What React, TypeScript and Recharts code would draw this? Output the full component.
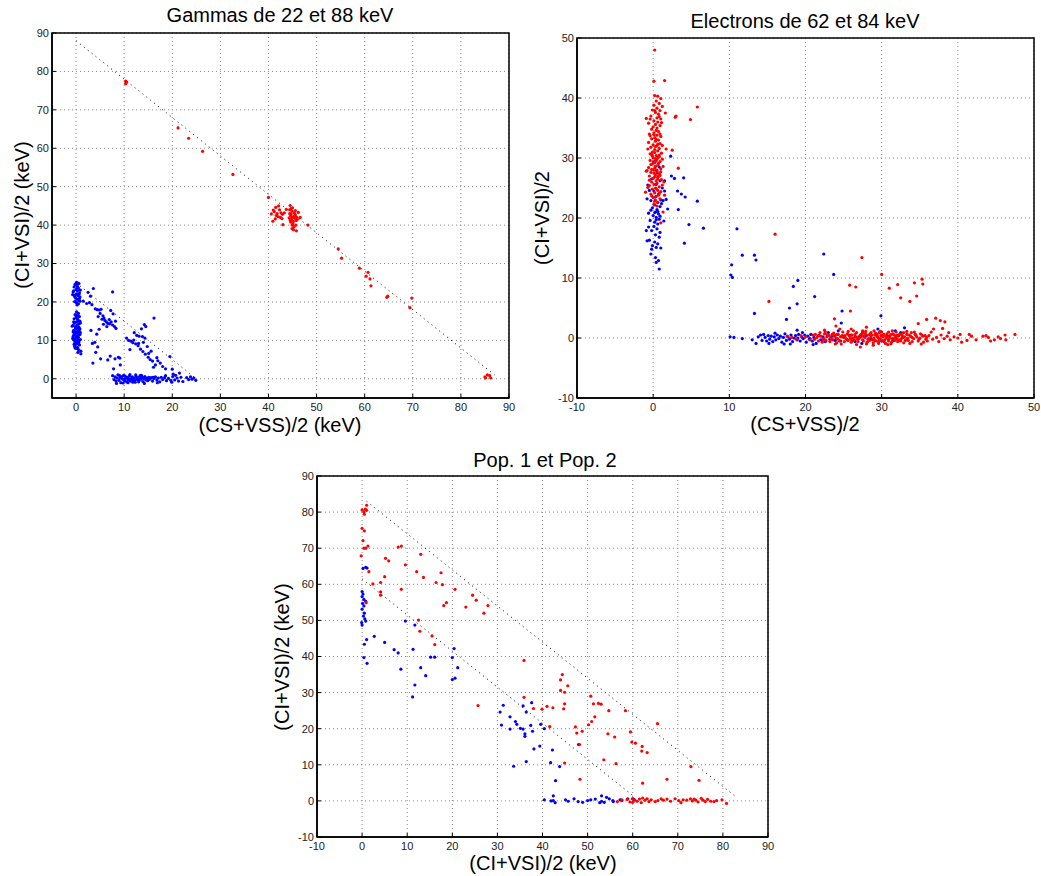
import { ScatterChart, Scatter, XAxis, YAxis, CartesianGrid, ReferenceLine, ReferenceArea } from "recharts";

type Pt = [number, number];

// ---- Gammas de 22 et 88 keV ----
const gammaTicks = [0, 10, 20, 30, 40, 50, 60, 70, 80, 90];
const gammaBlueColumn: Pt[] = [
  [0.1,25.1],[0.4,24.9],[-0.2,24.6],[0.6,24.8],[0.2,24.3],[-0.4,23.9],[0.5,23.6],[0.0,23.2],[0.3,22.9],[-0.6,22.6],
  [0.7,22.4],[0.1,22.1],[-0.2,21.8],[0.4,21.6],[0.8,21.3],[-0.1,21.0],[0.2,20.7],[0.6,20.4],[-0.3,20.1],[0.1,19.8],
  [0.5,19.5],[-0.5,22.9],[0.9,23.1],[0.3,24.0],[-0.1,24.5],[0.7,20.9],[0.0,20.0],[0.4,21.9],[-0.3,21.4],[0.6,22.0],
  [0.2,23.5],[-0.7,21.9],[0.8,20.2],[0.2,19.2],
  [0.1,17.4],[0.5,17.0],[-0.2,16.7],[0.3,16.4],[0.7,16.2],[0.0,15.9],[-0.4,15.6],[0.4,15.3],[0.8,15.0],[0.1,14.8],
  [-0.3,14.5],[0.5,14.2],[-0.6,13.9],[0.2,13.7],[0.6,13.4],[-0.1,13.1],[0.3,12.9],[-0.5,12.6],[0.7,12.4],[0.0,12.1],
  [0.4,11.9],[-0.3,11.7],[0.8,11.5],[0.1,11.2],[-0.6,11.0],[0.5,10.8],[-0.1,10.6],[0.3,10.4],[0.9,10.2],[-0.4,10.0],
  [0.2,9.8],[0.6,9.6],[-0.2,9.4],[0.4,9.2],[0.0,9.0],[0.7,8.8],[-0.3,8.5],[0.3,8.2],[0.1,7.9],[0.5,7.6],
  [-0.1,13.5],[0.9,12.0],[-0.7,10.5],[0.5,11.4],[-0.2,12.3],[0.2,14.0],[0.6,10.0],[-0.4,9.0],[0.8,13.0],[0.0,16.5],
  [0.3,15.6],[-0.5,14.8],[0.9,14.5],[0.1,10.9],[-0.3,10.2],[0.4,12.6],[0.6,8.9],[-0.1,11.8],[0.2,9.5],[0.7,14.9],
  [-0.5,11.3],[0.0,13.3],[1.0,6.5],[0.4,6.9],[-0.2,8.0],[-0.8,13.7],[-0.6,12.2],[1.0,7.2],
];
const gammaBlueBranches: Pt[] = [
  [1.5,20.2],[2.2,19.6],[2.8,19.8],[3.3,19.3],[3.0,21.5],[3.6,23.5],[2.5,22.5],[4.0,18.2],[4.4,18.0],[4.8,17.9],
  [5.2,18.1],[5.0,17.0],[5.6,16.4],[5.8,15.8],[6.0,15.2],[6.3,14.8],[6.6,14.4],[7.0,14.3],[7.3,14.8],[7.6,14.0],
  [8.0,13.6],[8.3,13.1],[7.2,17.8],[7.7,16.9],[8.2,15.0],[6.9,15.4],[5.4,15.5],[7.6,22.6],[3.1,12.6],[3.4,9.2],
  [3.9,9.5],[4.1,6.9],[3.5,4.1],[4.5,8.3],[4.8,12.9],[4.3,11.6],[5.1,5.2],[6.6,4.9],[7.1,5.9],[8.1,5.2],
  [8.8,5.6],[9.1,5.4],[7.8,2.6],[9.2,3.6],[5.7,14.2],[6.4,13.6],[4.6,16.2],
  [10.5,10.6],[10.9,10.0],[11.4,9.8],[12.0,10.1],[12.4,9.1],[12.9,8.6],[13.4,7.7],[13.9,7.1],[14.4,6.4],[15.0,5.6],
  [15.4,5.0],[15.9,4.6],[16.5,3.6],[17.0,4.7],[17.5,4.1],[18.0,3.2],[18.6,2.6],[13.1,11.1],[13.8,11.0],[14.3,10.6],
  [14.5,13.6],[14.2,14.1],[13.6,13.0],[12.1,12.0],[12.6,11.3],[16.2,15.8],[16.1,3.0],[15.1,6.6],[13.0,9.2],[11.2,7.6],
  [14.8,8.4],[15.6,7.2],[16.8,5.5],[19.5,5.8],[20.0,2.5],[20.2,1.2],[21.5,1.5],[11.8,9.4],[14.0,9.5],
];
const gammaBlueBand: Pt[] = [
  [7.6,0.8],[7.9,-0.2],[8.1,0.5],[8.3,-0.6],[8.5,0.2],[8.7,1.0],[8.9,-0.4],[9.1,0.3],[9.3,-1.0],[9.5,0.6],
  [9.7,-0.1],[9.9,0.9],[10.1,-0.5],[10.3,0.1],[10.5,-0.8],[10.7,0.4],[10.9,-0.3],[11.1,0.7],[11.3,-0.6],[11.5,0.0],
  [11.7,0.5],[11.9,-0.4],[12.1,0.2],[12.3,-0.9],[12.5,0.6],[12.7,-0.2],[12.9,0.3],[13.1,-0.5],[13.3,0.8],[13.5,-0.1],
  [13.7,0.4],[13.9,-0.7],[14.1,0.1],[14.3,0.6],[14.5,-0.3],[14.7,0.2],[14.9,-0.5],[15.1,0.4],[15.3,-0.1],[15.6,0.3],
  [15.9,-0.6],[16.2,0.1],[16.5,0.5],[16.8,-0.3],[17.1,0.2],[17.4,-0.8],[17.7,0.4],[18.0,-0.2],[18.4,0.3],[18.8,-0.5],
  [19.2,0.1],[19.7,-0.4],[20.1,0.6],[20.5,-0.3],[21.0,0.2],[21.3,-0.6],[21.8,0.4],[23.0,0.3],[23.4,-0.2],[23.8,0.5],
  [24.1,-0.1],[24.5,0.2],[24.9,-0.4],[8.4,-1.2],[9.0,0.9],[9.8,-1.1],[10.2,0.7],[10.8,-1.0],[11.2,1.1],[11.8,-0.9],
  [12.4,1.0],[13.0,-0.8],[13.6,0.9],[14.2,-1.2],[9.4,0.2],[10.0,-0.2],[10.6,0.3],[11.0,-0.1],[11.6,0.2],[12.2,-0.3],
  [12.8,0.0],[13.4,0.1],[14.0,0.3],[15.0,-0.2],[16.0,0.4],[16.9,-1.0],[18.6,0.8],[19.9,-0.9],[20.7,0.9],[22.2,-0.7],
];
const gammaRed: Pt[] = [
  [10.3,77.5],[10.3,76.8],[10.5,77.2],[21.2,65.3],[23.4,62.6],[26.3,59.2],[32.6,53.2],[40.0,47.2],
  [40.9,41.0],[41.2,43.5],[41.5,44.6],[41.8,43.0],[42.0,42.2],[42.3,44.0],[41.6,42.5],[42.6,43.2],[41.0,43.9],[42.1,45.0],
  [42.8,41.7],[43.0,40.1],[41.4,41.6],[42.5,42.0],[43.3,43.2],[43.7,44.1],[40.6,42.9],[42.9,42.8],
  [44.5,45.1],[44.7,44.3],[44.9,43.6],[44.4,43.0],[44.6,42.4],[45.0,42.0],[44.8,41.5],[45.2,41.0],[45.4,43.1],[45.6,42.6],
  [45.1,40.4],[45.3,39.6],[44.9,39.1],[45.7,40.0],[45.8,38.5],[44.6,40.8],[45.5,41.8],[44.3,41.9],[45.9,42.0],[46.2,43.3],
  [45.0,44.5],[44.7,42.9],[45.3,42.3],[44.5,41.3],[45.6,43.8],[45.2,38.8],[44.4,44.0],[45.8,41.2],[44.9,40.0],[46.0,41.5],
  [46.6,42.0],[48.2,40.0],[54.5,33.8],[55.2,31.4],[58.9,28.8],[60.7,27.7],[60.3,26.7],[61.1,26.0],[61.3,24.2],[64.6,21.2],
  [64.8,21.5],[69.8,21.0],[69.4,18.5],[85.0,0.5],[85.5,1.0],[86.0,0.8],[86.2,0.2],[85.1,0.2],
];
const gammaLines: Pt[][] = [
  [[0, 88], [87, 1]],
  [[0, 25], [25, 0]],
];

// ---- Electrons de 62 et 84 keV ----
const electronTicks = [-10, 0, 10, 20, 30, 40, 50];
const electronBlue: Pt[] = [
  [0.3,29.5],[0.8,28.5],[0.5,27.5],[-0.2,26.5],[0.9,26.2],[0.4,25.6],[1.2,25.0],[0.1,24.5],[0.7,24.0],[-0.5,24.6],
  [0.3,23.5],[1.0,23.0],[-0.3,22.9],[0.6,22.6],[0.2,22.2],[0.9,21.9],[-0.1,21.7],[0.5,21.4],[0.3,21.0],[0.7,20.7],
  [0.0,20.4],[0.4,20.1],[0.8,19.8],[-0.4,19.6],[0.2,19.3],[0.6,19.0],[-0.6,20.8],[1.1,22.4],[-0.8,23.2],[0.1,18.6],
  [0.5,18.2],[-0.2,17.9],[0.9,17.6],[0.3,17.2],[-0.9,17.9],[-0.5,16.3],[-0.8,16.2],[0.2,16.0],[0.6,15.7],[-0.1,15.4],
  [0.4,15.1],[1.0,15.0],[0.8,16.8],[-0.2,14.8],[-0.3,14.0],[0.3,13.4],[0.7,12.9],[0.4,12.6],[0.8,11.5],[1.3,22.9],
  [1.5,24.5],[-0.7,25.5],[1.4,19.5],[-0.6,18.5],[0.6,21.1],[0.2,20.9],[-0.3,21.3],[0.9,20.3],[0.4,19.7],
  [2.3,30.3],[2.4,27.0],[2.8,26.6],[4.0,26.7],[3.2,24.5],[3.7,24.0],[4.2,23.5],[5.8,22.8],[1.9,21.5],[3.3,21.4],
  [4.7,18.9],[6.6,18.3],[4.1,15.8],[1.5,26.2],[1.7,23.1],
  [10.2,10.5],[10.3,12.2],[10.4,10.1],[11.0,18.2],[11.7,13.8],[13.3,13.8],[13.5,13.0],[13.3,4.1],[17.5,3.1],[17.9,5.0],
  [18.4,8.6],[18.9,5.7],[19.0,9.6],[21.2,6.9],[22.4,14.0],[23.7,10.6],[24.8,4.5],[24.7,2.5],[29.9,3.7],[33.0,1.7],
  [29.5,1.5],[18.9,1.3],[24.3,1.2],[27.5,1.0],[31.8,1.2],[32.5,0.9],
  [10.1,0.2],[10.6,0.1],[11.7,-0.1],[13.0,-0.3],[13.5,-0.9],[13.8,0.2],[14.1,0.5],[14.3,-0.4],[14.5,0.6],[14.7,0.1],
  [14.9,-0.5],[15.1,0.4],[15.3,-0.2],[15.5,0.3],[15.7,-0.6],[15.9,0.2],[16.1,-0.3],[16.3,0.5],[16.5,-0.1],[16.7,0.3],
  [16.9,-0.7],[17.1,0.1],[17.3,0.7],[17.5,-0.4],[17.7,0.2],[17.9,-0.2],[18.1,0.5],[18.3,-0.6],[18.5,0.0],[18.7,0.4],
  [18.9,-0.3],[19.1,0.6],[19.3,-0.5],[19.5,0.2],[19.7,-0.1],[19.9,0.5],[20.1,-0.7],[20.3,0.3],[20.5,-0.2],[20.7,0.6],
  [20.9,-0.5],[21.1,0.1],[21.4,-0.9],[21.7,0.4],[22.0,-0.3],[22.3,0.2],[22.6,-0.6],[22.9,0.5],[23.2,-0.2],[23.5,0.3],
  [23.9,-0.4],[24.2,0.6],[24.6,-0.5],[25.0,0.3],[25.5,-0.3],[26.0,0.5],[26.5,-0.6],[27.0,0.2],[27.4,-0.9],[28.0,0.4],
  [28.6,-0.2],[29.2,0.6],[30.0,-0.5],[30.8,0.3],[31.5,-0.4],[32.2,0.5],[16.0,0.8],[18.0,-1.0],[19.6,0.9],[21.0,-1.1],
  [23.0,0.9],[15.2,-0.9],[17.2,-1.0],[19.0,0.0],[20.6,-0.1],
];
const electronRed: Pt[] = [
  [0.2,40.4],[0.6,40.3],[1.0,39.9],[0.4,39.5],[0.8,39.1],[0.1,38.8],[1.2,38.6],[0.5,38.3],[0.9,37.9],[-0.1,38.0],
  [0.3,37.6],[0.7,37.3],[-0.3,37.0],[0.5,36.7],[1.0,36.5],[0.1,36.2],[0.6,36.0],[-0.6,35.8],[0.3,35.6],[0.9,35.4],
  [0.0,35.2],[0.5,35.0],[-0.2,34.8],[0.8,36.9],[0.2,37.9],[1.1,35.9],[-0.4,36.5],[0.4,34.6],
  [0.7,34.4],[0.1,34.2],[-0.5,34.0],[0.5,33.8],[1.0,33.6],[0.2,33.4],[-0.2,33.2],[0.7,33.0],[0.3,32.8],[-0.6,32.6],
  [0.9,32.4],[0.0,32.2],[0.5,32.0],[-0.3,31.8],[0.8,31.6],[0.2,31.4],[0.6,31.2],[-0.1,31.0],[1.1,30.8],[0.4,33.1],
  [-0.4,33.7],[0.9,34.0],[0.3,31.9],[-0.7,31.5],[0.6,32.3],[0.1,33.9],[1.2,32.1],[-0.2,30.6],[0.4,30.4],[0.8,30.2],
  [0.0,30.0],[0.5,29.8],[-0.4,29.6],[0.9,29.4],[0.2,29.2],[-0.1,29.0],[0.6,28.8],[0.3,28.6],[-0.6,28.4],[1.0,28.2],
  [0.1,28.0],[0.5,27.8],[-0.3,27.6],[0.8,27.4],[0.3,27.2],[-0.5,27.0],[0.6,26.8],[0.0,26.6],[1.1,26.4],[0.4,26.2],
  [-0.2,26.0],[0.7,29.1],[0.2,28.3],[-0.8,27.9],[0.9,27.1],[0.4,29.5],[-0.3,28.9],[1.3,28.6],[0.1,27.5],[0.6,26.5],
  [-0.1,30.3],[0.8,30.5],[0.5,28.0],[0.2,26.9],[-0.5,26.3],[1.0,27.7],[0.3,29.9],[0.7,27.0],[-0.2,28.1],[0.4,27.9],
  [0.0,29.4],[1.2,29.8],[0.6,30.1],[-0.4,30.7],[0.2,30.9],
  [0.5,25.8],[0.1,25.6],[-0.5,25.4],[0.8,25.2],[0.3,25.0],[-0.1,24.8],[0.6,24.6],[1.0,24.4],[0.2,24.2],[-0.3,24.0],
  [0.7,23.8],[0.4,23.6],[0.0,23.4],[0.9,23.2],[0.3,23.0],[0.6,22.6],[0.1,22.3],[0.5,22.0],[-0.7,25.1],[1.2,25.5],
  [0.4,24.9],[-0.2,23.7],[0.8,24.1],[0.2,22.8],[-1.0,24.3],
  [0.2,48.0],[0.1,42.8],[1.5,42.9],[5.8,38.5],[2.9,36.8],[3.0,37.0],[4.9,36.4],[2.5,31.3],[3.3,28.3],[-0.9,36.6],
  [1.0,19.2],[1.6,37.5],[1.7,31.5],[1.4,26.0],[1.5,23.8],[1.3,21.0],[-0.9,27.8],
  [16.0,17.3],[15.2,6.1],[23.8,3.2],[25.8,8.8],[26.6,8.5],[25.9,4.5],[27.4,13.4],[30.0,10.6],[31.0,8.3],[32.1,8.9],
  [32.5,6.7],[33.7,6.1],[34.3,9.2],[34.6,7.0],[35.3,9.8],[35.4,9.0],[34.8,2.4],[35.9,3.1],[37.1,3.3],[37.7,2.9],
  [38.3,2.7],[38.0,1.6],[24.0,2.0],[24.5,1.5],[22.5,1.3],[26.0,1.5],[28.0,1.8],[36.8,1.5],
  [17.6,0.3],[18.2,0.1],[18.8,-0.2],[19.4,0.4],[20.0,0.2],[20.6,-0.3],[21.0,0.5],
  [21.3,0.6],[21.9,0.9],[22.5,0.7],[23.1,0.4],[23.7,0.8],[24.3,0.6],[24.9,1.0],[25.5,0.7],[26.1,0.5],[26.7,0.9],
  [27.3,0.6],[27.9,1.1],[28.5,0.7],[29.1,0.5],[29.7,0.9],[30.3,0.6],[30.9,1.0],[31.5,0.7],[32.1,0.4],[32.7,0.8],
  [33.3,0.6],[33.9,0.9],[34.5,0.5],[35.1,0.7],[35.7,0.4],
  [21.5,0.1],[22.0,0.3],[22.4,-0.1],[22.8,0.2],[23.3,0.0],[23.8,0.3],[24.2,-0.1],[24.6,0.2],[25.0,0.1],[25.4,-0.2],
  [25.8,0.3],[26.2,0.0],[26.6,0.2],[27.0,-0.1],[27.4,0.3],[27.8,0.1],[28.2,-0.2],[28.6,0.2],[29.0,0.0],[29.4,0.3],
  [29.8,-0.1],[30.2,0.2],[30.6,0.0],[31.0,0.3],[31.4,-0.2],[31.8,0.1],[32.2,0.3],[32.6,-0.1],[33.0,0.2],[33.4,0.0],
  [33.8,0.3],[34.2,-0.1],[34.6,0.2],[35.0,0.0],[35.4,0.3],[35.8,-0.2],
  [21.7,-0.5],[22.2,-0.7],[22.7,-0.4],[23.2,-0.6],[23.6,-0.3],[24.1,-0.8],[24.5,-0.5],[25.1,-0.6],[25.6,-0.4],[26.0,-0.7],
  [26.4,-0.3],[26.9,-0.6],[27.2,-1.5],[27.6,-0.5],[28.1,-0.7],[28.4,-0.4],[28.9,-0.8],[29.3,-0.5],[29.6,-0.6],[30.1,-0.4],
  [30.5,-0.9],[30.9,-0.5],[31.3,-0.7],[31.7,-0.4],[32.1,-0.6],[32.5,-0.5],[32.9,-0.8],[33.5,-0.4],[34.0,-0.6],[34.8,-0.5],
  [35.5,-0.7],
  [25.2,0.4],[25.9,-0.1],[26.5,0.6],[27.1,0.1],[27.6,0.8],[28.3,0.5],[28.8,-0.3],[29.2,0.8],[29.5,0.1],[29.9,0.4],
  [30.4,-0.3],[30.7,0.7],[31.1,0.1],[31.6,0.5],[32.0,-0.2],[32.4,0.6],[32.8,0.1],[33.2,-0.3],[30.0,1.0],[28.0,-1.0],
  [26.3,1.2],[31.2,-1.0],[24.0,0.0],[23.5,0.6],[27.7,0.3],[29.0,1.2],
  [21.2,-0.2],[21.8,0.4],[22.3,-0.3],[22.9,0.6],[23.4,-0.2],[24.0,0.5],[24.4,-0.4],[24.8,0.4],[25.3,-0.1],[25.7,0.5],
  [26.1,-0.4],[26.5,0.2],[26.8,-0.2],[27.2,0.5],[27.5,-0.3],[27.9,0.6],[28.3,-0.1],[28.7,0.5],[29.1,-0.4],[29.4,0.6],
  [29.7,-0.2],[30.0,0.5],[30.3,-0.6],[30.6,0.3],[30.9,-0.2],[31.2,0.6],[31.5,-0.1],[31.9,0.4],[32.3,-0.3],[32.7,0.4],
  [33.1,-0.4],[33.6,0.5],[34.0,0.1],[34.4,0.6],[34.9,-0.2],[35.3,0.5],[35.9,0.1],[36.0,-0.5],
  [22.6,1.0],[24.7,-1.0],[25.6,1.1],[26.7,-1.1],[28.9,-1.2],[29.8,1.1],[30.8,-1.1],[31.9,1.0],[32.9,0.9],[33.7,-0.9],
  [34.3,1.0],[35.2,-1.0],[23.9,-1.0],[27.5,1.2],[28.6,0.9],[29.6,-0.9],[31.4,1.2],[33.3,1.1],
  [36.2,0.4],[36.7,-0.2],[37.2,0.1],[37.8,0.5],[38.2,-0.1],[38.6,0.3],[39.0,-0.3],[39.5,0.2],[40.3,0.6],[40.5,-0.7],
  [41.2,-0.4],[41.5,0.6],[41.8,0.3],[42.4,-0.3],[43.3,0.3],[43.7,0.4],[44.0,0.1],[44.3,-0.5],[44.8,-0.3],[45.3,0.2],
  [45.6,-0.1],[46.2,0.5],[46.3,-0.3],[47.5,0.6],[36.5,1.0],[37.5,-0.6],[38.8,0.9],[40.0,0.0],
];

// ---- Pop. 1 et Pop. 2 ----
const popTicks = [-10, 0, 10, 20, 30, 40, 50, 60, 70, 80, 90];
const popBlue: Pt[] = [
  [0.2,64.4],[0.8,64.7],[1.1,64.5],
  [0.0,58.0],[0.2,57.3],[0.0,56.6],[0.4,55.8],[0.8,55.3],[0.1,54.7],[0.4,54.0],[0.0,53.1],[0.5,52.0],[0.3,51.2],
  [0.6,50.4],[-0.1,49.4],[0.8,49.8],[0.0,48.7],
  [1.0,44.7],[0.5,43.4],[0.4,39.7],[1.1,38.1],[2.7,45.6],[5.0,43.9],[7.1,41.9],[8.0,41.0],[8.6,36.5],[9.6,49.8],
  [11.3,42.0],[11.7,48.7],[11.7,32.1],[11.2,28.8],[13.0,36.9],[14.1,34.7],[15.2,39.8],[16.1,39.8],[20.0,39.7],[20.4,42.2],
  [20.0,33.6],[20.6,34.0],[21.2,36.9],
  [30.6,24.6],[30.9,21.0],[31.3,26.5],[32.8,23.3],[32.8,19.9],[34.0,22.0],[34.3,21.2],[35.1,20.1],[35.7,19.9],[35.7,26.3],
  [36.4,24.6],[36.1,18.6],[36.1,17.9],[37.6,27.2],[37.4,20.9],[37.8,19.3],[38.1,14.4],[39.4,15.2],[39.6,21.2],[40.4,20.0],
  [36.4,10.9],[33.6,9.6],[41.8,10.6],[42.2,14.1],[43.8,9.5],[42.9,5.6],[42.4,1.4],[48.0,15.6],
  [40.4,0.3],[41.9,0.0],[42.4,0.1],[42.8,-0.5],[45.1,0.3],[45.7,-0.1],[47.0,0.6],[47.9,-0.2],[48.9,-0.4],[50.0,0.1],
  [50.7,0.3],[51.7,0.5],[52.7,-0.5],[53.1,-0.1],[53.7,-0.4],[53.1,1.4],[54.2,1.0],[54.8,0.6],[55.6,0.1],[55.7,-0.2],
  [57.2,0.3],[57.6,0.1],[58.9,0.6],[60.3,0.3],[60.1,0.6],
];
const popRed: Pt[] = [
  [0.0,80.6],[0.4,80.1],[0.7,80.8],[1.0,81.9],[0.5,79.4],[1.0,80.5],
  [0.0,75.5],[0.5,74.8],[0.2,72.1],[0.4,70.0],[0.8,70.0],[1.3,70.6],
  [-0.2,67.9],[8.0,70.3],[8.7,70.6],[5.2,67.2],[5.9,66.5],[9.6,65.4],[13.0,68.3],
  [1.5,63.5],[2.4,60.1],[4.1,60.5],[5.0,62.1],[12.1,63.5],[13.6,61.9],[17.5,63.2],[17.8,59.9],[16.4,60.5],[20.6,58.6],
  [4.1,57.9],[4.1,57.0],[8.7,58.6],[0.9,54.9],[18.1,54.1],[18.7,54.9],[23.0,53.7],[24.5,57.0],[25.3,55.6],[27.0,52.0],
  [27.9,54.1],
  [12.5,50.1],[12.8,47.0],[15.5,45.7],[16.1,43.3],
  [25.7,26.4],[35.9,38.9],[35.9,28.7],[38.0,25.6],[39.9,25.4],[41.0,26.2],[42.3,25.8],[41.6,20.6],
  [44.4,35.0],[44.0,33.5],[44.0,30.6],[44.9,30.1],[45.6,31.9],[44.9,26.9],[44.7,25.5],
  [47.3,20.5],[47.6,18.8],[48.8,19.3],[48.2,15.6],[48.3,6.0],[44.9,10.5],
  [50.2,21.1],[50.9,22.0],[51.6,23.3],[50.7,29.0],[51.3,26.9],[52.4,27.0],[53.0,26.8],[54.7,25.0],[54.5,18.6],[56.0,17.7],
  [53.6,11.4],[56.3,10.3],
  [58.4,25.0],[59.5,19.1],[59.8,16.3],[60.6,16.0],[62.1,15.1],[62.0,13.8],[63.2,13.4],[62.2,4.9],[65.5,21.4],[67.6,6.0],
  [72.9,9.5],[74.7,5.7],
  [56.6,-0.2],[57.6,0.3],[58.8,0.4],[59.4,-0.3],[59.9,0.6],[60.5,0.2],[61.0,-0.1],[61.5,0.5],[61.9,-0.5],[62.2,0.8],
  [62.7,0.2],[63.2,0.6],[63.6,-0.2],[64.1,0.3],[65.6,0.1],[66.3,0.6],[66.8,0.2],[67.6,0.5],[68.4,-0.1],[69.4,0.6],
  [70.2,0.1],[70.7,-0.5],[71.2,0.3],[72.0,0.2],[72.8,0.6],[73.2,0.0],[73.6,0.5],[74.5,-0.3],[75.2,0.7],[75.6,0.2],
  [76.1,-0.2],[76.6,0.4],[77.3,-0.1],[78.0,-0.2],[78.6,0.1],[79.8,0.3],[80.8,-0.7],[60.0,-0.4],[65.0,-0.2],[74.0,0.2],
];
const popLines: Pt[][] = [
  [[1, 83], [83, 1]],
  [[0, 61.5], [60.5, 1]],
];

const FONT = "'Liberation Sans', Arial, Helvetica, sans-serif";
const toObj = (arr: Pt[]) => arr.map(([x, y]) => ({ x, y }));
const dot = (color: string) => (p: any) => <circle cx={p.cx} cy={p.cy} r={1.6} fill={color} />;

type PanelProps = {
  left: number;
  top: number;
  width: number;
  height: number;
  margin: { top: number; right: number; bottom: number; left: number };
  xDomain: [number, number];
  yDomain: [number, number];
  xTicks: number[];
  yTicks: number[];
  blue: Pt[];
  red: Pt[];
  lines: Pt[][];
};

function Panel(props: PanelProps) {
  const { left, top, width, height, margin, xDomain, yDomain, xTicks, yTicks, blue, red, lines } = props;
  const tickStyle = { fill: "#222", fontSize: 11, fontFamily: FONT };
  return (
    <div style={{ position: "absolute", left, top }}>
      <ScatterChart width={width} height={height} margin={margin}>
        <CartesianGrid stroke="#888" strokeDasharray="1 3" />
        <XAxis type="number" dataKey="x" domain={xDomain} ticks={xTicks} allowDataOverflow
          height={20} tick={tickStyle} tickSize={-4} tickMargin={9} interval={0}
          axisLine={{ stroke: "#000", strokeWidth: 1.5 }} tickLine={{ stroke: "#000" }} />
        <YAxis type="number" dataKey="y" domain={yDomain} ticks={yTicks} allowDataOverflow
          width={40} tick={tickStyle} tickSize={-4} tickMargin={7} interval={0}
          axisLine={{ stroke: "#000", strokeWidth: 1.5 }} tickLine={{ stroke: "#000" }} />
        {lines.map((seg, i) => (
          <ReferenceLine key={i} segment={seg.map(([x, y]) => ({ x, y }))}
            stroke="#000" strokeWidth={1} strokeDasharray="1 4" />
        ))}
        <Scatter data={toObj(blue)} shape={dot("#0000ff")} isAnimationActive={false} />
        <Scatter data={toObj(red)} shape={dot("#ff0000")} isAnimationActive={false} />
        <ReferenceArea x1={xDomain[0]} x2={xDomain[1]} y1={yDomain[0]} y2={yDomain[1]}
          fill="none" fillOpacity={0} stroke="#000" strokeWidth={1.5} />
      </ScatterChart>
    </div>
  );
}

function Label(p: { x: number; y: number; text: string; rotate?: boolean }) {
  return (
    <div
      style={{
        position: "absolute",
        left: p.x,
        top: p.y,
        transform: `translate(-50%, -50%)${p.rotate ? " rotate(-90deg)" : ""}`,
        whiteSpace: "nowrap",
        fontFamily: FONT,
        fontSize: 20,
        lineHeight: "22px",
        color: "#000",
      }}
    >
      {p.text}
    </div>
  );
}

export default function App() {
  return (
    <div style={{ position: "absolute", left: 0, top: 0, width: 1041, height: 876, background: "#fff" }}>
      <Panel left={0} top={0} width={520} height={440}
        margin={{ top: 33, right: 11, bottom: 22, left: 12 }}
        xDomain={[-5, 90]} yDomain={[-5, 90]} xTicks={gammaTicks} yTicks={gammaTicks}
        blue={[...gammaBlueColumn, ...gammaBlueBranches, ...gammaBlueBand]} red={gammaRed} lines={gammaLines} />
      <Label x={280} y={15} text="Gammas de 22 et 88 keV" />
      <Label x={280} y={425} text="(CS+VSS)/2 (keV)" />
      <Label x={22} y={215} text="(CI+VSI)/2 (keV)" rotate />

      <Panel left={530} top={0} width={511} height={440}
        margin={{ top: 38, right: 7, bottom: 22, left: 7 }}
        xDomain={[-10, 50]} yDomain={[-10, 50]} xTicks={electronTicks} yTicks={electronTicks}
        blue={electronBlue} red={electronRed} lines={[]} />
      <Label x={805} y={21} text="Electrons de 62 et 84 keV" />
      <Label x={805} y={424} text="(CS+VSS)/2" />
      <Label x={542} y={218} text="(CI+VSI)/2" rotate />

      <Panel left={260} top={440} width={530} height={436}
        margin={{ top: 36, right: 22, bottom: 19, left: 17 }}
        xDomain={[-10, 90]} yDomain={[-10, 90]} xTicks={popTicks} yTicks={popTicks}
        blue={popBlue} red={popRed} lines={popLines} />
      <Label x={545} y={460} text="Pop. 1 et Pop. 2" />
      <Label x={543} y={863} text="(CI+VSI)/2 (keV)" />
      <Label x={282} y={657} text="(CI+VSI)/2 (keV)" rotate />
    </div>
  );
}
